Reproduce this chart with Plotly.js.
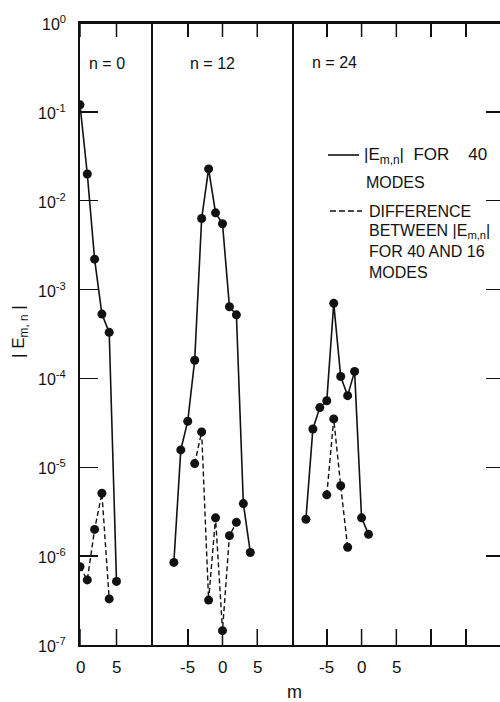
<!DOCTYPE html>
<html>
<head>
<meta charset="utf-8">
<script src="https://cdn.plot.ly/plotly-3.0.1.min.js"></script>
<style>
  html, body { margin: 0; padding: 0; background: #fff; }
  #chart { width: 500px; height: 702px; }
</style>
</head>
<body>
<div id="chart"></div>
<script>
// ---- data ----
const m_n0_total  = [0, 1, 2, 3, 4, 5];
const E_n0_total  = [0.12, 0.020, 2.2e-3, 5.3e-4, 3.3e-4, 5.2e-7];
const m_n0_diff   = [0, 1, 2, 3, 4];
const E_n0_diff   = [7.6e-7, 5.4e-7, 2.0e-6, 5.1e-6, 3.3e-7];

const m_n12_total = [-7, -6, -5, -4, -3, -2, -1, 0, 1, 2, 3, 4];
const E_n12_total = [8.5e-7, 1.57e-5, 3.3e-5, 1.6e-4, 6.3e-3, 0.0228, 7.3e-3, 5.5e-3, 6.4e-4, 5.2e-4, 3.9e-6, 1.1e-6];
const m_n12_diff  = [-4, -3, -2, -1, 0, 1, 2];
const E_n12_diff  = [1.1e-5, 2.5e-5, 3.2e-7, 2.7e-6, 1.45e-7, 1.7e-6, 2.4e-6];

const m_n24_total = [-8, -7, -6, -5, -4, -3, -2, -1, 0, 1];
const E_n24_total = [2.6e-6, 2.7e-5, 4.7e-5, 5.6e-5, 7.0e-4, 1.05e-4, 6.4e-5, 1.2e-4, 2.7e-6, 1.76e-6];
const m_n24_diff  = [-5, -4, -3, -2];
const E_n24_diff  = [4.9e-6, 3.5e-5, 6.2e-6, 1.26e-6];

const yTickVals  = [1, 1e-1, 1e-2, 1e-3, 1e-4, 1e-5, 1e-6, 1e-7];
const yTickText  = ['10<sup>0</sup>', '10<sup>-1</sup>', '10<sup>-2</sup>', '10<sup>-3</sup>',
                    '10<sup>-4</sup>', '10<sup>-5</sup>', '10<sup>-6</sup>', '10<sup>-7</sup>'];
const x1TickVals = [0, 5];
const x1TickText = ['0', '5'];
const x2TickVals = [-5, 0, 5];
const x2TickText = ['-5', '0', '5'];
const x3TickVals = [-5, 0, 5, 10, 15];
const x3TickText = ['-5', '0', '5', '', ''];
const panelLabels = ['n = 0', 'n = 12', 'n = 24'];

// ---- styling ----
const FONT = 'Liberation Sans, Arial, sans-serif';
const INK = '#111';
const solid = {color: INK, width: 1.6};
const dashed = {color: INK, width: 1.4, dash: '5px,3px'};
const mk = {color: INK, size: 9};

function tr(x, y, xa, ya, line) {
  return {x: x, y: y, xaxis: xa, yaxis: ya, type: 'scatter', mode: 'lines+markers',
          line: line, marker: mk, showlegend: false, hoverinfo: 'skip'};
}

const data = [
  tr(m_n0_total, E_n0_total, 'x', 'y', solid),
  tr(m_n0_diff, E_n0_diff, 'x4', 'y', dashed),
  tr(m_n12_total, E_n12_total, 'x2', 'y2', solid),
  tr(m_n12_diff, E_n12_diff, 'x5', 'y2', dashed),
  tr(m_n24_total, E_n24_total, 'x3', 'y3', solid),
  tr(m_n24_diff, E_n24_diff, 'x6', 'y3', dashed)
];

const W = 420, H = 622, L = 80, T = 23;
const px = v => (v - L) / W;
const py = v => (T + H - v) / H;

const d1 = 73 / W, d2 = 212 / W;
const R1 = [0, 10], R2 = [-10, 10], R3 = [-10, 19.9];

function xbot(domain, range, tv, anchor) {
  return {domain: domain, range: range, anchor: anchor, side: 'bottom', showgrid: false,
          zeroline: false, showline: true, linecolor: INK, linewidth: 1.8,
          ticks: 'inside', ticklen: 16, tickwidth: 1.5, tickcolor: INK,
          tickmode: 'array', tickvals: tv, showticklabels: false, fixedrange: true};
}
function xtop(over, range, tv, anchor) {
  return {overlaying: over, range: range, anchor: anchor, side: 'top', showgrid: false,
          zeroline: false, showline: true, linecolor: INK, linewidth: 1.8,
          ticks: 'inside', ticklen: 14, tickwidth: 1.5, tickcolor: INK,
          tickmode: 'array', tickvals: tv, showticklabels: false, fixedrange: true};
}
function yax(anchor, extra) {
  return Object.assign({domain: [0, 1], type: 'log', range: [-7, 0], anchor: anchor,
          showgrid: false, zeroline: false, showline: true, linecolor: INK, linewidth: 1.8,
          tickmode: 'array', tickvals: yTickVals, showticklabels: false, fixedrange: true}, extra);
}

const tickFontX = {family: FONT, size: 17, color: INK};
const tickFontY = {family: FONT, size: 16, color: INK};

// tick labels and tick marks, placed through the axes' own scales
const tickLabels = [];
const tickMarks = [];
const tickLine = {color: INK, width: 1.5};
[[x1TickVals, x1TickText, 'x'], [x2TickVals, x2TickText, 'x2'], [x3TickVals, x3TickText, 'x3']]
  .forEach(([vals, txt, ref]) => vals.forEach((v, i) => {
    if (txt[i] !== '') tickLabels.push({text: txt[i], x: v, xref: ref, y: py(667), yref: 'paper',
                                        font: tickFontX});
    tickMarks.push({type: 'line', xref: ref, yref: 'paper', x0: v, x1: v, y0: 0, y1: 16 / H, line: tickLine});
    tickMarks.push({type: 'line', xref: ref, yref: 'paper', x0: v, x1: v, y0: 1, y1: 1 - 14 / H, line: tickLine});
  }));
yTickVals.forEach((v, i) => {
  tickLabels.push({text: yTickText[i], x: px(68), xref: 'paper',
    y: Math.log10(v), yref: 'y', xanchor: 'right', font: tickFontY});
  tickMarks.push({type: 'line', xref: 'paper', yref: 'y', x0: 0, x1: 18 / W,
    y0: Math.log10(v), y1: Math.log10(v), line: tickLine});
});

const annotations = tickLabels.concat([
  {text: '| E<sub>m, n</sub> |', x: px(20), y: py(332), textangle: -90, font: {family: FONT, size: 17, color: INK}},
  {text: 'm', x: px(294), y: py(692), font: {family: FONT, size: 18, color: INK}},
  {text: panelLabels[0], x: px(107), y: py(63)},
  {text: panelLabels[1], x: px(212), y: py(63)},
  {text: panelLabels[2], x: px(334), y: py(62)},
  {text: '|E<sub>m,n</sub>|&nbsp; FOR&nbsp;&nbsp;&nbsp; 40', x: px(362), y: py(156), xanchor: 'left', font: {family: FONT, size: 17, color: INK}},
  {text: 'MODES', x: px(364), y: py(182), xanchor: 'left'},
  {text: 'DIFFERENCE', x: px(367), y: py(212), xanchor: 'left'},
  {text: 'BETWEEN |E<sub>m,n</sub>|', x: px(367), y: py(231), xanchor: 'left'},
  {text: 'FOR 40 AND 16', x: px(367), y: py(251), xanchor: 'left'},
  {text: 'MODES', x: px(367), y: py(272), xanchor: 'left'}
]).map(a => Object.assign({xref: 'paper', yref: 'paper', showarrow: false,
        xanchor: 'center', yanchor: 'middle', font: {family: FONT, size: 16, color: INK}}, a));

const shapes = tickMarks.concat([
  // top frame edge
  {type: 'line', xref: 'paper', yref: 'paper', x0: 0, x1: 1, y0: 1, y1: 1,
   line: {color: INK, width: 1.8}},
  // legend samples
  {type: 'line', xref: 'paper', yref: 'paper', x0: px(328), x1: px(359), y0: py(155), y1: py(155),
   line: {color: INK, width: 1.6}},
  {type: 'line', xref: 'paper', yref: 'paper', x0: px(330), x1: px(362), y0: py(211), y1: py(211),
   line: {color: INK, width: 1.6, dash: '6px,3px'}}
]);

const layout = {
  width: 500, height: 702,
  margin: {l: L, r: 0, t: T, b: 702 - T - H, pad: 0},
  paper_bgcolor: '#fff', plot_bgcolor: 'rgba(0,0,0,0)',
  font: {family: FONT, color: INK},
  showlegend: false,
  xaxis:  xbot([0, d1], R1, x1TickVals, 'y'),
  xaxis2: xbot([d1, d2], R2, x2TickVals, 'y2'),
  xaxis3: xbot([d2, 1], R3, x3TickVals, 'y3'),
  xaxis4: xtop('x', R1, x1TickVals, 'y'),
  xaxis5: xtop('x2', R2, x2TickVals, 'y2'),
  xaxis6: xtop('x3', R3, x3TickVals, 'y3'),
  yaxis:  yax('x', {ticks: 'inside', ticklen: 18, tickwidth: 1.5, tickcolor: INK}),
  yaxis2: yax('x2', {mirror: true, ticks: ''}),
  yaxis3: yax('x3', {side: 'right', showline: false, ticks: 'inside', ticklen: 14, tickwidth: 1.5,
                     tickcolor: INK}),
  annotations: annotations,
  shapes: shapes
};

Plotly.newPlot('chart', data, layout, {staticPlot: true, displayModeBar: false});
</script>
</body>
</html>
